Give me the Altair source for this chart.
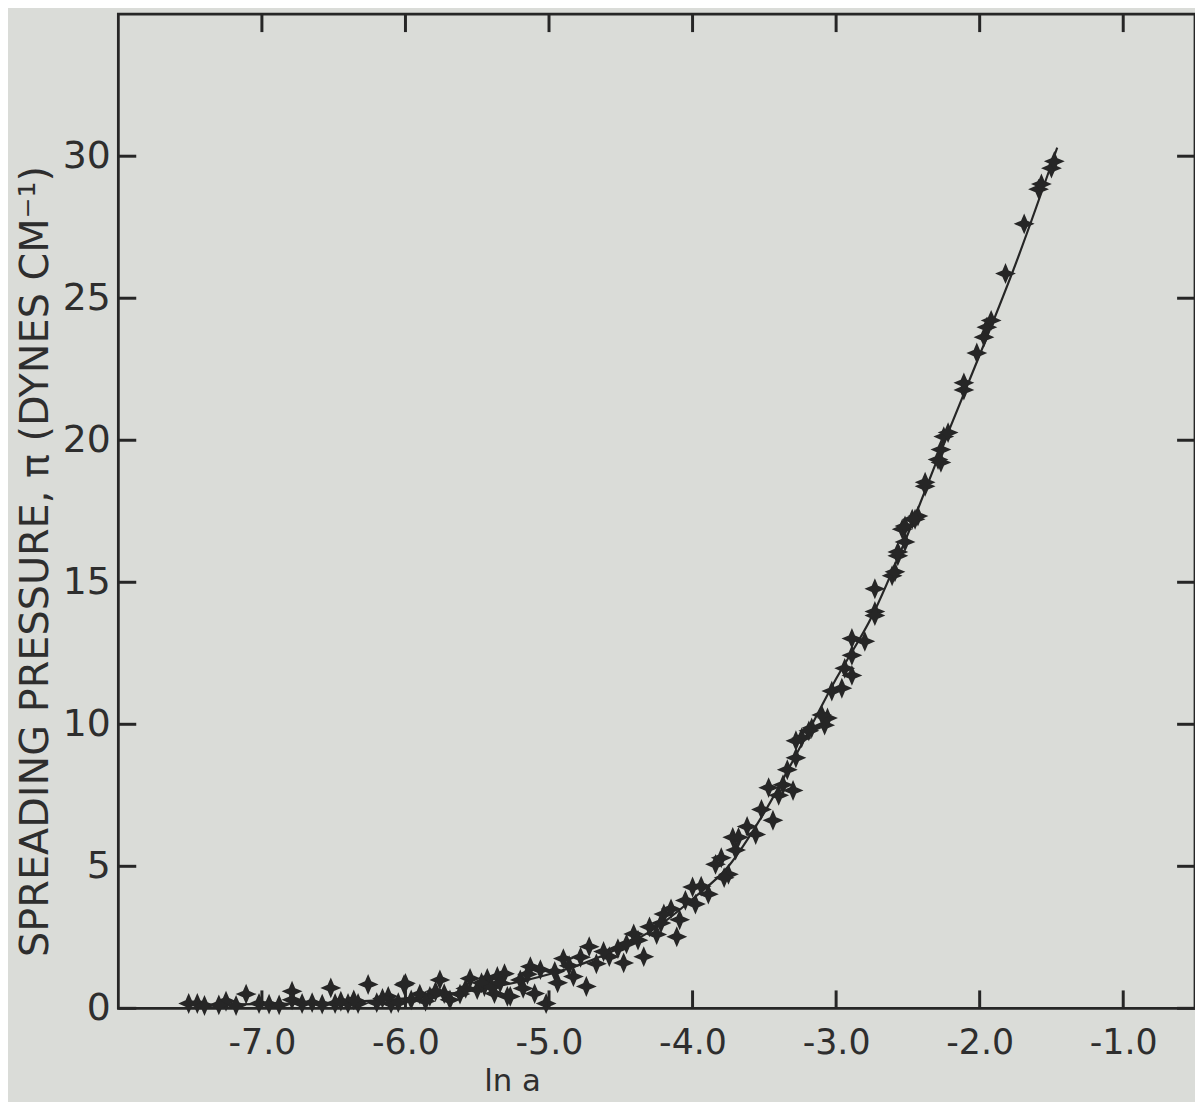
import altair as alt
import pandas as pd

# ---- data ----
ln_a = [-7.51, -7.45, -7.25, -7.11, -7.02, -6.79, -6.79, -6.72, -6.52, -6.49, -6.40, -6.33,
        -6.26, -6.12, -6.10, -6.01, -5.96, -5.83, -5.76, -5.73, -5.69, -5.55, -5.50, -5.43,
        -5.38, -5.31, -5.27,
        -5.45, -5.36, -5.29, -5.13, -5.06, -5.10, -5.02, -4.90, -4.83, -4.72, -4.74, -4.67,
        -4.58, -4.46, -4.41, -4.34, -4.30, -4.20, -4.11, -4.09, -4.00, -3.98, -3.89, -3.84,
        -3.75, -3.72, -3.70,
        -3.68, -3.56, -3.44, -3.47, -3.37, -3.30, -3.28, -3.24, -3.17, -3.08, -3.06, -2.96,
        -2.94, -2.89, -2.89, -2.80, -2.73, -2.73, -2.61, -2.57, -2.54,
        -3.28, -3.19, -3.10, -3.03, -2.89, -2.73, -2.59, -2.57, -2.47, -2.43, -2.38, -2.27,
        -2.27, -2.25, -2.22,
        -2.52, -2.52, -2.45, -2.38, -2.29, -2.11, -2.11, -2.02, -1.97, -1.95, -1.92, -1.82,
        -1.69, -1.59, -1.57, -1.50, -1.48,
        -7.40, -7.30, -7.18, -6.95, -6.88, -6.65, -6.58, -6.45, -6.36, -6.20, -6.16, -6.05,
        -6.00, -5.90, -5.86, -5.79, -5.62, -5.58, -5.47, -5.40, -5.34, -5.20, -5.18, -5.15,
        -4.96, -4.94, -4.86, -4.78, -4.62, -4.52, -4.48, -4.38, -4.25, -4.22, -4.15, -4.05,
        -3.94, -3.80, -3.78, -3.62, -3.52, -3.40, -3.34]
pi_val = [0.17, 0.17, 0.25, 0.50, 0.17, 0.60, 0.30, 0.17, 0.72, 0.17, 0.17, 0.17,
          0.84, 0.42, 0.17, 0.83, 0.30, 0.42, 1.00, 0.52, 0.30, 1.05, 0.66, 1.05,
          0.52, 1.22, 0.42,
          0.77, 1.12, 0.42, 1.47, 1.36, 0.52, 0.17, 1.75, 1.12, 2.17, 0.77, 1.57,
          1.82, 2.27, 2.62, 1.82, 2.87, 3.32, 2.52, 3.12, 4.27, 3.67, 4.02, 5.07,
          4.72, 6.02, 5.57,
          6.02, 6.12, 6.62, 7.77, 7.87, 7.67, 8.82, 9.52, 9.87, 9.97, 10.22, 11.27,
          11.97, 11.72, 13.02, 12.92, 13.97, 14.77, 15.23, 15.93, 16.87,
          9.42, 9.77, 10.33, 11.17, 12.43, 13.83, 15.37, 16.07, 17.22, 17.33, 18.38, 19.22,
          19.67, 20.13, 20.27,
          16.42, 16.98, 17.22, 18.52, 19.32, 21.77, 22.02, 23.07, 23.63, 23.98, 24.22, 25.87,
          27.62, 28.84, 29.02, 29.58, 29.82,
          0.10, 0.12, 0.10, 0.15, 0.12, 0.20, 0.15, 0.25, 0.30, 0.20, 0.35, 0.20,
          0.88, 0.50, 0.25, 0.60, 0.50, 0.70, 0.90, 0.75, 0.90, 1.00, 0.70, 1.20,
          1.30, 0.90, 1.50, 1.80, 2.00, 2.10, 1.60, 2.40, 2.60, 3.00, 3.50, 3.80,
          4.30, 5.30, 4.60, 6.40, 7.00, 7.50, 8.40]

curve_x = [-7.5, -7.0, -6.5, -6.0, -5.5, -5.0, -4.75, -4.5, -4.25, -4.0, -3.75, -3.5,
           -3.25, -3.0, -2.75, -2.5, -2.25, -2.0, -1.75, -1.46]
curve_y = [0.12, 0.15, 0.20, 0.35, 0.65, 1.20, 1.60, 2.15, 2.85, 3.85, 5.0, 6.9,
           9.2, 11.6, 13.8, 16.7, 19.9, 23.0, 26.2, 30.3]

x_ticks = [-7, -6, -5, -4, -3, -2, -1]
y_ticks = [0, 5, 10, 15, 20, 25, 30]

# ---- styling ----
W, H = 1083, 1000
INK = "#262626"
TXT = "#2e2e2e"
BG = "#dadcd8"
FONT = "DejaVu Sans"
TICK = 18
STAR = "M0,-1L0.3,-0.3L1,0L0.3,0.3L0,1L-0.3,0.3L-1,0L-0.3,-0.3Z"

xscale = alt.Scale(domain=[-8.0, -0.5], nice=False, zero=False)
yscale = alt.Scale(domain=[0, 35], nice=False, zero=False)

xaxis = alt.Axis(values=x_ticks, ticks=False, domain=False, grid=False,
                 labelExpr="'-' + format(abs(datum.value), '.1f')",
                 labelFont=FONT, labelFontSize=35, labelColor=TXT, labelPadding=17,
                 labelFontWeight="normal",
                 title="ln a", titleFont=FONT, titleFontSize=31, titleFontWeight="normal",
                 titleColor=TXT, titleX=396, titleY=83, titleAlign="center",
                 titleBaseline="alphabetic")
yaxis = alt.Axis(values=y_ticks, ticks=False, domain=False, grid=False, format="d",
                 labelFont=FONT, labelFontSize=38, labelColor=TXT, labelPadding=8,
                 labelFontWeight="normal",
                 title="SPREADING  PRESSURE, π (DYNES CM⁻¹)", titleFont=FONT,
                 titleFontSize=40, titleFontWeight="normal", titleColor=TXT,
                 titleAngle=270, titleX=-83, titleY=550, titleAlign="center",
                 titleBaseline="middle")

pts = pd.DataFrame({"x": ln_a, "y": pi_val})
crv = pd.DataFrame({"x": curve_x, "y": curve_y})
xt = pd.DataFrame({"t": x_ticks})
yt = pd.DataFrame({"t": y_ticks})

line = alt.Chart(crv).mark_line(color=INK, strokeWidth=2.2, interpolate="monotone").encode(
    x=alt.X("x:Q", scale=xscale, axis=xaxis),
    y=alt.Y("y:Q", scale=yscale, axis=yaxis),
)
points = alt.Chart(pts).mark_point(shape=STAR, filled=True, size=440, color=INK,
                                   opacity=1).encode(
    x=alt.X("x:Q", scale=xscale, axis=xaxis),
    y=alt.Y("y:Q", scale=yscale, axis=yaxis),
)
bottom_ticks = alt.Chart(xt).mark_rule(color=INK, strokeWidth=3).encode(
    x=alt.X("t:Q", scale=xscale, axis=xaxis),
    y=alt.value(H), y2=alt.value(H - TICK),
)
top_ticks = alt.Chart(xt).mark_rule(color=INK, strokeWidth=3).encode(
    x=alt.X("t:Q", scale=xscale, axis=xaxis),
    y=alt.value(0), y2=alt.value(TICK),
)
left_ticks = alt.Chart(yt).mark_rule(color=INK, strokeWidth=3).encode(
    y=alt.Y("t:Q", scale=yscale, axis=yaxis),
    x=alt.value(0), x2=alt.value(TICK),
)
right_ticks = alt.Chart(yt).mark_rule(color=INK, strokeWidth=3).encode(
    y=alt.Y("t:Q", scale=yscale, axis=yaxis),
    x=alt.value(W), x2=alt.value(W - TICK),
)

chart = alt.layer(line, points, bottom_ticks, top_ticks, left_ticks, right_ticks).properties(
    width=W, height=H,
    autosize=alt.AutoSizeParams(type="none"),
    padding={"left": 111, "top": 3, "right": 0, "bottom": 91},
    background=BG,
).configure_view(stroke=INK, strokeWidth=2.8)

chart.save("out.html", embed_options={"renderer": "svg", "actions": False})
